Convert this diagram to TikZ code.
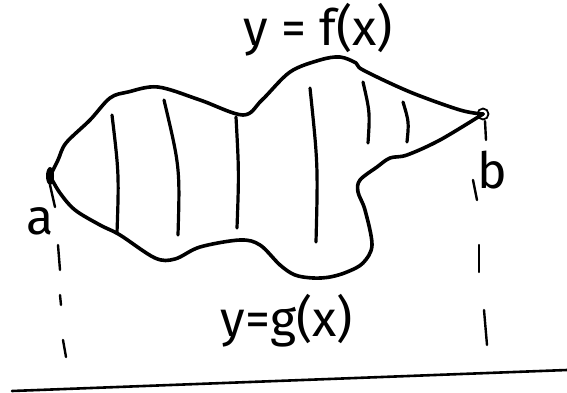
\documentclass[tikz,border=0pt]{standalone}
\usepackage{fontspec}
\setmainfont{Fira Sans}
\usetikzlibrary{positioning}

\begin{document}
\begin{tikzpicture}[
x=1pt,y=-1pt,
curve/.style={line width=3.6pt,line cap=round,line join=round},
hatch/.style={line width=3.2pt,line cap=round},
guide/.style={line width=2.4pt,line cap=round},
lbl/.style={font=\fontsize{50}{50}\selectfont,inner sep=0pt}
]
\useasboundingbox (0,0) rectangle (567,393);
\coordinate (pa) at (50,176);
\coordinate (pb) at (483,114);
\coordinate (ax0) at (12,391);
\coordinate (ax1) at (567,370);
% upper boundary
\draw[curve] plot[smooth,tension=0.55] coordinates {(50,176) (58,160) (66,143) (90,120) (110,98) (128,92) (158,87) (200,100) (243,115) (262,100) (290,72) (320,60) (340,57) (356,63) (363,70) (410,92) (460,110) (483,114)};
% lower boundary
\draw[curve] plot[smooth,tension=0.55] coordinates {(483,114) (440,140) (407,155) (390,158) (377,167) (360,180) (358,192) (365,210) (372,245) (363,263) (347,272) (330,277) (313,278) (295,275) (280,265) (260,245) (240,240) (200,247) (175,259) (155,258) (120,235) (100,225) (75,210) (60,193) (50,176)};
% strips
\foreach \xa/\ya/\xb/\yb in {112/115/117/233, 164/100/178/235, 236/117/237/228, 310/88/316/242, 363/82/368/143, 403/102/407/142}
  \draw[hatch] (\xa,\ya) .. controls (\xb+2,\ya/2+\yb/2) .. (\xb,\yb);
% end points
\fill (pa) ellipse (4 and 9);
\draw[line width=1.8pt] (pb) circle (5.5);
\fill (pb) circle (1.8);
% dashed guides
\foreach \xa/\ya/\xb/\yb in {50/185/55/207, 58/245/60/270, 60/295/61/305, 63/340/66/357}
  \draw[guide] (\xa,\ya) -- (\xb,\yb);
\foreach \xa/\ya/\xb/\yb in {485/121/486/140, 473/180/477/200, 479/245/479/272, 484/310/487/345}
  \draw[guide] (\xa,\ya) -- (\xb,\yb);
% labels
\node[lbl,anchor=base] (fx) at (318,46) {y = f(x)};
\node[lbl,anchor=base] (gx) at (287,336) {y=g(x)};
\node[lbl] (la) at (40,221) {a};
\node[lbl] (lb) at (492,170) {b};
% axis
\draw[line width=2.6pt,line cap=round] (ax0) -- (ax1);
\end{tikzpicture}
\end{document}
